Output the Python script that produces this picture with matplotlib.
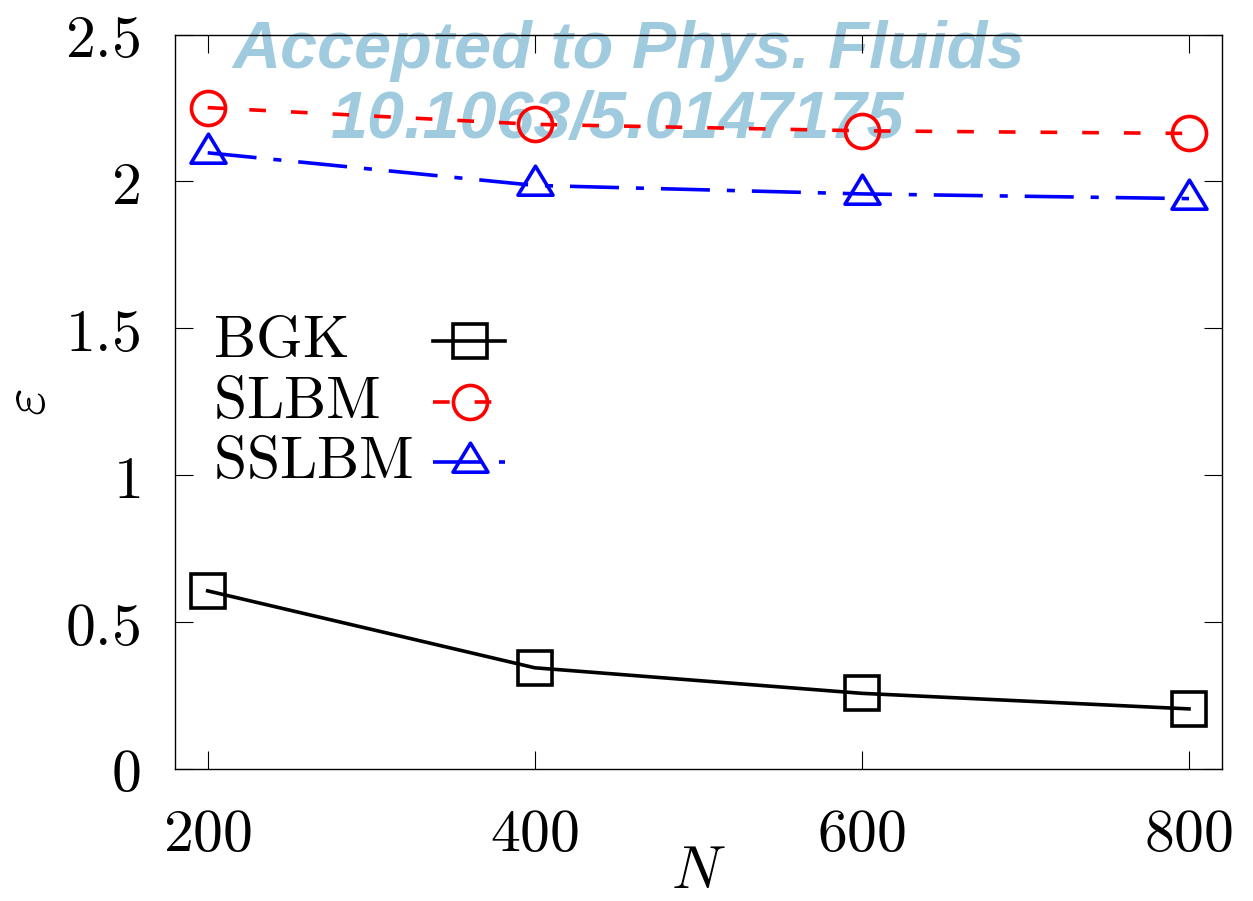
import matplotlib
matplotlib.use("Agg")
import matplotlib.pyplot as plt
from matplotlib.lines import Line2D
from matplotlib.path import Path

# Convergence data: error epsilon versus resolution N
N_values = [200, 400, 600, 800]
bgk = [0.605, 0.343, 0.256, 0.203]
slbm = [2.251, 2.194, 2.172, 2.163]
sslbm = [2.097, 1.986, 1.957, 1.941]

series_labels = ["BGK", "SLBM", "SSLBM"]
x_ticks = [200, 400, 600, 800]
y_ticks = [0, 0.5, 1, 1.5, 2, 2.5]
y_tick_labels = ["0", "0.5", "1", "1.5", "2", "2.5"]

plt.rcParams["mathtext.fontset"] = "cm"
plt.rcParams["lines.scale_dashes"] = False

FS = 43
LW = 2.6

fig = plt.figure(figsize=(12.53, 9.01), dpi=100)
W, H = 1253.0, 901.0
left, right, top, bottom = 175.0, 1221.7, 34.5, 768.5
ax = fig.add_axes([left / W, 1 - bottom / H, (right - left) / W, (bottom - top) / H])

# Gnuplot-style triangle with the data point at its centroid
tri = Path([(0, 19.3), (-17.5, -9.7), (17.5, -9.7), (0, 19.3)],
           [Path.MOVETO, Path.LINETO, Path.LINETO, Path.CLOSEPOLY])

styles = [
    dict(color="black", marker="s", ms=24.5, ls="-"),
    dict(color="red", marker="o", ms=24.5, dashes=(12, 18)),
    dict(color="blue", marker=tri, ms=27.8, dashes=(35.3, 12.2, 5.8, 12.2)),
]

for y, st in zip([bgk, slbm, sslbm], styles):
    kw = dict(st)
    ax.plot(N_values, y, lw=LW, mfc="none", mew=LW, zorder=3, **kw)

ax.set_xlim(180, 820)
ax.set_ylim(0, 2.5)
ax.set_xticks(x_ticks)
ax.set_xticklabels([rf"${t}$" for t in x_ticks])
ax.set_yticks(y_ticks)
ax.set_yticklabels([rf"${t}$" for t in y_tick_labels])
ax.tick_params(direction="in", length=13, width=0.8, top=True, right=True,
               labelsize=FS, pad=25)
ax.tick_params(axis="x", pad=26)
for s in ax.spines.values():
    s.set_linewidth(1.0)

fig.text(28 / W, 1 - 402 / H, r"$\varepsilon$", rotation=90, fontsize=FS,
         ha="center", va="center")
fig.text(698 / W, 1 - 871 / H, r"$N$", fontsize=FS, ha="center", va="center")

# Key: label text on the left, sample line and marker on the right
text_baselines = [357, 418, 478]
line_ys = [340.7, 401.7, 462.3]
for lab, st, tb, ly in zip(series_labels, styles, text_baselines, line_ys):
    fig.text(213 / W, 1 - tb / H, rf"$\mathrm{{{lab}}}$", fontsize=FS,
             ha="left", va="baseline")
    kw = dict(st)
    marker = kw.pop("marker")
    ms = kw.pop("ms")
    ln = Line2D([433 / W, 505 / W], [1 - ly / H, 1 - ly / H],
                transform=fig.transFigure, lw=LW, **kw)
    fig.add_artist(ln)
    mk = Line2D([470 / W], [1 - ly / H], transform=fig.transFigure,
                marker=marker, ms=ms, mfc="none", mew=LW, color=kw["color"],
                ls="none")
    fig.add_artist(mk)

# Publication stamp behind the data
wm_color = "#A0CBDF"
ax.text(628.5 / W, 1 - 68 / H, "Accepted to Phys. Fluids", transform=fig.transFigure,
        fontsize=48, family="Liberation Sans", weight="bold", style="italic",
        color=wm_color, ha="center", va="baseline", zorder=0.5, clip_on=False)
ax.text(618 / W, 1 - 138 / H, "10.1063/5.0147175", transform=fig.transFigure,
        fontsize=48, family="Liberation Sans", weight="bold", style="italic",
        color=wm_color, ha="center", va="baseline", zorder=0.5, clip_on=False)

fig.savefig("out.png", dpi=100)
